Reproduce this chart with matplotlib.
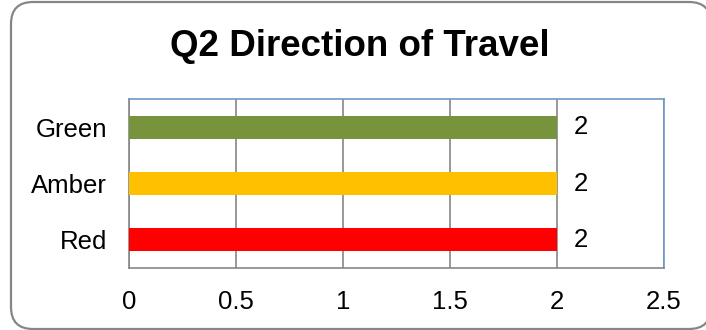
import matplotlib
matplotlib.use("Agg")
import matplotlib.pyplot as plt
from matplotlib.patches import FancyBboxPatch

categories = ["Red", "Amber", "Green"]
values = [2, 2, 2]
bar_colors = ["#FF0000", "#FFC000", "#77933C"]
xticks = [0, 0.5, 1, 1.5, 2, 2.5]
xtick_labels = ["0", "0.5", "1", "1.5", "2", "2.5"]
title = "Q2 Direction of Travel"

plt.rcParams['font.family'] = ['Liberation Sans', 'DejaVu Sans']

W, H = 706, 330
fig = plt.figure(figsize=(W / 100, H / 100), dpi=100)

# background frame with rounded corners
bg = fig.add_axes([0, 0, 1, 1])
bg.set_xlim(0, W)
bg.set_ylim(H, 0)
bg.axis("off")
bg.add_patch(FancyBboxPatch((11, 2), 700, 327,
                            boxstyle="round,pad=0,rounding_size=22",
                            facecolor="white", edgecolor="#868686", linewidth=1.6))

ax = fig.add_axes([129 / W, (H - 268) / H, 535 / W, 169 / H])
ax.set_zorder(2)
ax.patch.set_alpha(0)
y = list(range(len(categories)))
ax.barh(y, values, height=0.41, color=bar_colors, zorder=3)
ax.set_xlim(0, 2.5)
ax.set_ylim(-0.5, len(categories) - 0.5)
ax.set_xticks(xticks)
ax.set_xticklabels(xtick_labels)
ax.set_yticks(y)
ax.set_yticklabels(categories)
ax.tick_params(axis="both", length=0, labelsize=18.5)
ax.tick_params(axis="x", pad=16)
ax.tick_params(axis="y", pad=16)
ax.grid(axis="x", color="#868686", linewidth=1.2, zorder=1)
ax.set_axisbelow(True)
for s in ["left", "bottom"]:
    ax.spines[s].set_color("#868686")
    ax.spines[s].set_linewidth(1.2)
for s in ["top", "right"]:
    ax.spines[s].set_color("#6F98C8")
    ax.spines[s].set_linewidth(1.2)

for yi, v in zip(y, values):
    ax.annotate(str(v), xy=(v, yi), xytext=(17, 0), textcoords="offset pixels",
                va="center", ha="left", fontsize=18.5)

fig.text(360 / W, (H - 56) / H, title, ha="center", va="baseline",
         fontsize=26.5, fontweight="bold")

fig.savefig("out.png", dpi=100)
